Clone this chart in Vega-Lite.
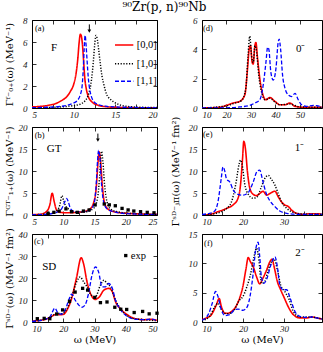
{
 "$schema": "https://vega.github.io/schema/vega-lite/v6.json",
 "padding": {"left": 3, "top": 0, "right": 0, "bottom": 0},
 "title": {"text": "⁹⁰Zr(p, n)⁹⁰Nb", "font": "DejaVu Serif", "fontSize": 12, "fontWeight": "normal", "anchor": "middle", "offset": 2, "color": "black"},
 "columns": 2,
 "spacing": {"row": 19, "column": 45},
 "bounds": "flush",
 "datasets": {
  "a": [
   {"x":5,"y":0.1,"s":"r"},{"x":6,"y":0.15,"s":"r"},{"x":7,"y":0.25,"s":"r"},{"x":8,"y":0.45,"s":"r"},{"x":8.6,"y":0.7,"s":"r"},{"x":9.2,"y":1.05,"s":"r"},{"x":9.6,"y":1.5,"s":"r"},{"x":10,"y":2.15,"s":"r"},{"x":10.3,"y":3.2,"s":"r"},{"x":10.5,"y":4.5,"s":"r"},{"x":10.65,"y":5.9,"s":"r"},{"x":10.8,"y":6.7,"s":"r"},{"x":10.9,"y":6.6,"s":"r"},{"x":11.05,"y":5.8,"s":"r"},{"x":11.2,"y":4.2,"s":"r"},{"x":11.35,"y":2.6,"s":"r"},{"x":11.5,"y":1.8,"s":"r"},{"x":11.75,"y":1.05,"s":"r"},{"x":12.2,"y":0.55,"s":"r"},{"x":12.75,"y":0.3,"s":"r"},{"x":13.5,"y":0.15,"s":"r"},{"x":14.75,"y":0.07,"s":"r"},{"x":17,"y":0.03,"s":"r"},{"x":20,"y":0.02,"s":"r"},
   {"x":5,"y":0.02,"s":"k"},{"x":7,"y":0.05,"s":"k"},{"x":8.5,"y":0.1,"s":"k"},{"x":9.5,"y":0.17,"s":"k"},{"x":10.3,"y":0.25,"s":"k"},{"x":10.8,"y":0.35,"s":"k"},{"x":11.3,"y":0.6,"s":"k"},{"x":11.6,"y":0.9,"s":"k"},{"x":11.85,"y":1.4,"s":"k"},{"x":12.05,"y":2.1,"s":"k"},{"x":12.25,"y":3.3,"s":"k"},{"x":12.4,"y":4.6,"s":"k"},{"x":12.55,"y":6.0,"s":"k"},{"x":12.68,"y":6.6,"s":"k"},{"x":12.85,"y":6.2,"s":"k"},{"x":13,"y":5.3,"s":"k"},{"x":13.2,"y":4.0,"s":"k"},{"x":13.4,"y":2.9,"s":"k"},{"x":13.6,"y":2.2,"s":"k"},{"x":13.95,"y":1.25,"s":"k"},{"x":14.4,"y":0.8,"s":"k"},{"x":14.8,"y":0.55,"s":"k"},{"x":15.5,"y":0.3,"s":"k"},{"x":16.4,"y":0.15,"s":"k"},{"x":18,"y":0.07,"s":"k"},{"x":20,"y":0.04,"s":"k"},
   {"x":5,"y":0.03,"s":"b"},{"x":7,"y":0.07,"s":"b"},{"x":8.5,"y":0.15,"s":"b"},{"x":9.5,"y":0.3,"s":"b"},{"x":10,"y":0.45,"s":"b"},{"x":10.4,"y":0.65,"s":"b"},{"x":10.75,"y":1.1,"s":"b"},{"x":11,"y":1.9,"s":"b"},{"x":11.15,"y":3.5,"s":"b"},{"x":11.25,"y":5.2,"s":"b"},{"x":11.38,"y":6.6,"s":"b"},{"x":11.5,"y":5.6,"s":"b"},{"x":11.62,"y":4.2,"s":"b"},{"x":11.75,"y":2.8,"s":"b"},{"x":11.9,"y":1.8,"s":"b"},{"x":12.1,"y":1.1,"s":"b"},{"x":12.4,"y":0.6,"s":"b"},{"x":13,"y":0.3,"s":"b"},{"x":14,"y":0.15,"s":"b"},{"x":15.5,"y":0.08,"s":"b"},{"x":17,"y":0.05,"s":"b"},{"x":20,"y":0.02,"s":"b"}
  ],
  "b": [
   {"x":5,"y":0.1,"s":"r"},{"x":6.24,"y":0.15,"s":"r"},{"x":7.31,"y":0.76,"s":"r"},{"x":7.85,"y":2.3,"s":"r"},{"x":8.23,"y":4.96,"s":"r"},{"x":8.55,"y":3.05,"s":"r"},{"x":8.92,"y":1.15,"s":"r"},{"x":9.46,"y":0.6,"s":"r"},{"x":10.54,"y":0.5,"s":"r"},{"x":12.15,"y":0.6,"s":"r"},{"x":13.23,"y":0.76,"s":"r"},{"x":14.3,"y":1.4,"s":"r"},{"x":14.84,"y":2.7,"s":"r"},{"x":15.27,"y":6.1,"s":"r"},{"x":15.54,"y":11.5,"s":"r"},{"x":15.75,"y":14.35,"s":"r"},{"x":15.97,"y":12.2,"s":"r"},{"x":16.24,"y":6.9,"s":"r"},{"x":16.56,"y":3.05,"s":"r"},{"x":17.1,"y":1.4,"s":"r"},{"x":18.06,"y":0.76,"s":"r"},{"x":20.2,"y":0.38,"s":"r"},{"x":25,"y":0.15,"s":"r"},
   {"x":5,"y":0.05,"s":"k"},{"x":7.85,"y":0.3,"s":"k"},{"x":8.92,"y":0.9,"s":"k"},{"x":9.46,"y":2.3,"s":"k"},{"x":9.78,"y":4.4,"s":"k"},{"x":10.1,"y":3.05,"s":"k"},{"x":10.4,"y":2.0,"s":"k"},{"x":10.8,"y":1.4,"s":"k"},{"x":11.2,"y":0.9,"s":"k"},{"x":12.15,"y":0.6,"s":"k"},{"x":13.5,"y":0.7,"s":"k"},{"x":14.84,"y":1.5,"s":"k"},{"x":15.48,"y":3.8,"s":"k"},{"x":15.8,"y":8.4,"s":"k"},{"x":16.02,"y":13,"s":"k"},{"x":16.13,"y":14.5,"s":"k"},{"x":16.34,"y":12.2,"s":"k"},{"x":16.61,"y":6.9,"s":"k"},{"x":16.99,"y":3.05,"s":"k"},{"x":17.53,"y":1.4,"s":"k"},{"x":18.6,"y":0.76,"s":"k"},{"x":21.3,"y":0.3,"s":"k"},{"x":25,"y":0.12,"s":"k"},
   {"x":5,"y":0.05,"s":"b"},{"x":7.31,"y":0.15,"s":"b"},{"x":8.92,"y":0.6,"s":"b"},{"x":9.73,"y":1.4,"s":"b"},{"x":10.27,"y":3.05,"s":"b"},{"x":10.54,"y":3.8,"s":"b"},{"x":10.8,"y":3.05,"s":"b"},{"x":11.18,"y":1.4,"s":"b"},{"x":11.88,"y":0.76,"s":"b"},{"x":13.23,"y":0.76,"s":"b"},{"x":14.3,"y":1.15,"s":"b"},{"x":14.95,"y":2.7,"s":"b"},{"x":15.27,"y":6.9,"s":"b"},{"x":15.48,"y":12.2,"s":"b"},{"x":15.65,"y":14.7,"s":"b"},{"x":15.86,"y":13,"s":"b"},{"x":16.13,"y":6.9,"s":"b"},{"x":16.45,"y":3.05,"s":"b"},{"x":16.99,"y":1.4,"s":"b"},{"x":18.06,"y":0.76,"s":"b"},{"x":20.2,"y":0.3,"s":"b"},{"x":25,"y":0.12,"s":"b"}
  ],
  "bexp": [
   {"x":7.58,"y":0.38},{"x":8.5,"y":0.6},{"x":9.35,"y":0.9},{"x":10.43,"y":1.4},{"x":11.34,"y":0.75},{"x":12.26,"y":0.6},{"x":13.23,"y":0.9},{"x":14.14,"y":1.15},{"x":15.1,"y":2.3},{"x":16.56,"y":2.5},{"x":17.37,"y":2.3},{"x":18.33,"y":2.1},{"x":19.41,"y":1.5},{"x":20.38,"y":1.15},{"x":21.29,"y":0.9},{"x":22.37,"y":0.75},{"x":23.44,"y":0.6},{"x":24.52,"y":0.5}
  ],
  "c": [
   {"x":10,"y":0.45,"s":"r"},{"x":12.5,"y":0.75,"s":"r"},{"x":14.6,"y":1.35,"s":"r"},{"x":16.25,"y":2.5,"s":"r"},{"x":17.9,"y":3.6,"s":"r"},{"x":18.95,"y":3.3,"s":"r"},{"x":20,"y":3.45,"s":"r"},{"x":21.1,"y":5.2,"s":"r"},{"x":22.7,"y":10.8,"s":"r"},{"x":24.3,"y":20.5,"s":"r"},{"x":25.74,"y":29.2,"s":"r"},{"x":26.5,"y":26.5,"s":"r"},{"x":27.6,"y":18.3,"s":"r"},{"x":28.9,"y":12.3,"s":"r"},{"x":30.3,"y":10.3,"s":"r"},{"x":31.6,"y":11.5,"s":"r"},{"x":33,"y":14.5,"s":"r"},{"x":34.6,"y":15.3,"s":"r"},{"x":35.7,"y":13.8,"s":"r"},{"x":36.7,"y":9.3,"s":"r"},{"x":38.4,"y":5.8,"s":"r"},{"x":40.5,"y":3.3,"s":"r"},{"x":42.7,"y":1.65,"s":"r"},{"x":45.9,"y":1.05,"s":"r"},{"x":48.1,"y":1.2,"s":"r"},{"x":50,"y":0.75,"s":"r"},
   {"x":10,"y":0.3,"s":"k"},{"x":13.6,"y":1.0,"s":"k"},{"x":16.25,"y":2.5,"s":"k"},{"x":17.9,"y":4.0,"s":"k"},{"x":19.5,"y":3.7,"s":"k"},{"x":21.1,"y":5.8,"s":"k"},{"x":22.7,"y":11.5,"s":"k"},{"x":24.3,"y":18.3,"s":"k"},{"x":25.4,"y":20.5,"s":"k"},{"x":26.5,"y":18.3,"s":"k"},{"x":27.6,"y":16,"s":"k"},{"x":28.9,"y":12.3,"s":"k"},{"x":30.3,"y":11.5,"s":"k"},{"x":31.9,"y":16.8,"s":"k"},{"x":33,"y":19,"s":"k"},{"x":34,"y":17.5,"s":"k"},{"x":35.1,"y":16,"s":"k"},{"x":36.7,"y":10,"s":"k"},{"x":38.4,"y":5.8,"s":"k"},{"x":40.5,"y":2.8,"s":"k"},{"x":42.7,"y":1.5,"s":"k"},{"x":45.9,"y":1.05,"s":"k"},{"x":50,"y":0.6,"s":"k"},
   {"x":10,"y":0.3,"s":"b"},{"x":13.6,"y":1.05,"s":"b"},{"x":15.7,"y":2.25,"s":"b"},{"x":17.3,"y":6.3,"s":"b"},{"x":18.4,"y":4.0,"s":"b"},{"x":19.5,"y":3.6,"s":"b"},{"x":20.6,"y":5.5,"s":"b"},{"x":21.6,"y":9.3,"s":"b"},{"x":22.7,"y":12.7,"s":"b"},{"x":23.8,"y":10,"s":"b"},{"x":24.9,"y":7.8,"s":"b"},{"x":26,"y":6.7,"s":"b"},{"x":27,"y":7.8,"s":"b"},{"x":28.1,"y":13,"s":"b"},{"x":29.2,"y":21.3,"s":"b"},{"x":30.3,"y":25,"s":"b"},{"x":31.3,"y":22.8,"s":"b"},{"x":32.4,"y":16,"s":"b"},{"x":33.5,"y":16,"s":"b"},{"x":34.6,"y":17.5,"s":"b"},{"x":35.7,"y":15.3,"s":"b"},{"x":36.7,"y":10,"s":"b"},{"x":38.4,"y":5.5,"s":"b"},{"x":40.5,"y":2.5,"s":"b"},{"x":42.7,"y":1.35,"s":"b"},{"x":45.9,"y":1.05,"s":"b"},{"x":48.1,"y":1.35,"s":"b"},{"x":50,"y":0.6,"s":"b"}
  ],
  "cexp": [
   {"x":11.7,"y":1.5},{"x":13.9,"y":1.65},{"x":15.7,"y":1.5},{"x":17.9,"y":3.6},{"x":19.8,"y":5.5},{"x":22,"y":9.4},{"x":23.8,"y":13.6},{"x":26.2,"y":15.3},{"x":27.8,"y":14.5},{"x":30.1,"y":11.2},{"x":31.9,"y":8.8},{"x":34,"y":9.1},{"x":36.5,"y":6.7},{"x":38.4,"y":5.8},{"x":40.3,"y":5.7},{"x":42.7,"y":4.3},{"x":45.4,"y":4.8},{"x":47.5,"y":3.7},{"x":50,"y":4.0}
  ],
  "d": [
   {"x":10,"y":0,"s":"r"},{"x":17.2,"y":0.05,"s":"r"},{"x":20,"y":0.18,"s":"r"},{"x":22.7,"y":0.34,"s":"r"},{"x":25.4,"y":0.45,"s":"r"},{"x":27.5,"y":0.9,"s":"r"},{"x":28.6,"y":2.7,"s":"r"},{"x":29.25,"y":4.0,"s":"r"},{"x":29.8,"y":4.25,"s":"r"},{"x":30.5,"y":3.1,"s":"r"},{"x":30.9,"y":3.0,"s":"r"},{"x":31.6,"y":4.25,"s":"r"},{"x":32,"y":4.47,"s":"r"},{"x":32.7,"y":3.35,"s":"r"},{"x":33.6,"y":2.0,"s":"r"},{"x":34.7,"y":1.0,"s":"r"},{"x":36.1,"y":0.56,"s":"r"},{"x":37.7,"y":0.72,"s":"r"},{"x":39.8,"y":0.45,"s":"r"},{"x":41.8,"y":0.22,"s":"r"},{"x":43.9,"y":0.22,"s":"r"},{"x":45.9,"y":0.34,"s":"r"},{"x":48,"y":0.11,"s":"r"},{"x":51.4,"y":0.05,"s":"r"},{"x":59,"y":0.05,"s":"r"},
   {"x":10,"y":0,"s":"k"},{"x":20,"y":0.15,"s":"k"},{"x":23.4,"y":0.34,"s":"k"},{"x":26.1,"y":0.5,"s":"k"},{"x":27.9,"y":1.35,"s":"k"},{"x":28.8,"y":3.6,"s":"k"},{"x":29.5,"y":4.9,"s":"k"},{"x":30.2,"y":3.6,"s":"k"},{"x":30.9,"y":3.1,"s":"k"},{"x":31.6,"y":4.25,"s":"k"},{"x":32.3,"y":3.8,"s":"k"},{"x":33.2,"y":2.2,"s":"k"},{"x":34.3,"y":1.1,"s":"k"},{"x":35.7,"y":0.56,"s":"k"},{"x":37.7,"y":0.67,"s":"k"},{"x":39.8,"y":0.4,"s":"k"},{"x":41.8,"y":0.22,"s":"k"},{"x":45.9,"y":0.27,"s":"k"},{"x":50,"y":0.07,"s":"k"},{"x":59,"y":0.05,"s":"k"},
   {"x":10,"y":0,"s":"b"},{"x":20,"y":0.01,"s":"b"},{"x":25.4,"y":0.07,"s":"b"},{"x":29.5,"y":0.18,"s":"b"},{"x":31.6,"y":0.34,"s":"b"},{"x":33.6,"y":0.56,"s":"b"},{"x":35,"y":1.57,"s":"b"},{"x":36.1,"y":3.1,"s":"b"},{"x":36.8,"y":4.14,"s":"b"},{"x":37.3,"y":4.0,"s":"b"},{"x":38.1,"y":2.46,"s":"b"},{"x":39.1,"y":1.9,"s":"b"},{"x":40.2,"y":2.7,"s":"b"},{"x":41.1,"y":4.47,"s":"b"},{"x":41.5,"y":4.7,"s":"b"},{"x":42.1,"y":4.0,"s":"b"},{"x":42.9,"y":2.24,"s":"b"},{"x":43.9,"y":1.34,"s":"b"},{"x":45.2,"y":0.9,"s":"b"},{"x":46.6,"y":0.78,"s":"b"},{"x":48,"y":1.0,"s":"b"},{"x":49.3,"y":0.56,"s":"b"},{"x":50.7,"y":0.22,"s":"b"},{"x":52.7,"y":0.11,"s":"b"},{"x":55.5,"y":0.18,"s":"b"},{"x":56.8,"y":0.16,"s":"b"},{"x":59,"y":0.05,"s":"b"}
  ],
  "e": [
   {"x":10,"y":0,"s":"r"},{"x":11.9,"y":0.15,"s":"r"},{"x":13.9,"y":0.75,"s":"r"},{"x":16,"y":1.5,"s":"r"},{"x":17.6,"y":2.3,"s":"r"},{"x":18.8,"y":3.8,"s":"r"},{"x":19.4,"y":6.8,"s":"r"},{"x":19.9,"y":12.8,"s":"r"},{"x":20.2,"y":16.75,"s":"r"},{"x":20.6,"y":15.1,"s":"r"},{"x":21.1,"y":9.8,"s":"r"},{"x":21.7,"y":6.0,"s":"r"},{"x":22.5,"y":4.7,"s":"r"},{"x":23.3,"y":4.4,"s":"r"},{"x":24.1,"y":4.9,"s":"r"},{"x":24.9,"y":5.4,"s":"r"},{"x":25.8,"y":4.5,"s":"r"},{"x":26.6,"y":4.9,"s":"r"},{"x":27.8,"y":5.4,"s":"r"},{"x":28.6,"y":4.15,"s":"r"},{"x":29.4,"y":3.0,"s":"r"},{"x":30.2,"y":2.3,"s":"r"},{"x":31.1,"y":1.9,"s":"r"},{"x":31.9,"y":1.1,"s":"r"},{"x":33.1,"y":0.38,"s":"r"},{"x":34.7,"y":0.15,"s":"r"},{"x":36.4,"y":0.3,"s":"r"},{"x":38,"y":0.3,"s":"r"},{"x":39.3,"y":0.15,"s":"r"},
   {"x":10,"y":0,"s":"k"},{"x":13.5,"y":0.38,"s":"k"},{"x":16,"y":1.5,"s":"k"},{"x":17.2,"y":3.0,"s":"k"},{"x":18.2,"y":6.8,"s":"k"},{"x":19.1,"y":11.7,"s":"k"},{"x":19.4,"y":12.5,"s":"k"},{"x":19.9,"y":10.9,"s":"k"},{"x":20.4,"y":7.2,"s":"k"},{"x":21.3,"y":4.7,"s":"k"},{"x":22.5,"y":3.8,"s":"k"},{"x":23.5,"y":4.15,"s":"k"},{"x":24.5,"y":6.4,"s":"k"},{"x":25.6,"y":8.7,"s":"k"},{"x":26.2,"y":9.0,"s":"k"},{"x":26.8,"y":8.3,"s":"k"},{"x":27.8,"y":6.8,"s":"k"},{"x":28.6,"y":4.9,"s":"k"},{"x":29.4,"y":3.0,"s":"k"},{"x":30.7,"y":1.5,"s":"k"},{"x":32.3,"y":0.6,"s":"k"},{"x":34.7,"y":0.23,"s":"k"},{"x":39.3,"y":0.15,"s":"k"},
   {"x":10,"y":0.15,"s":"b"},{"x":11.9,"y":0.38,"s":"b"},{"x":13.1,"y":0.9,"s":"b"},{"x":13.9,"y":3.0,"s":"b"},{"x":14.7,"y":8.3,"s":"b"},{"x":15.1,"y":10.9,"s":"b"},{"x":15.5,"y":10.2,"s":"b"},{"x":16,"y":8.15,"s":"b"},{"x":16.8,"y":7.5,"s":"b"},{"x":17.6,"y":5.7,"s":"b"},{"x":18.8,"y":4.7,"s":"b"},{"x":20,"y":4.5,"s":"b"},{"x":21.3,"y":5.1,"s":"b"},{"x":22.5,"y":7.5,"s":"b"},{"x":23.5,"y":10,"s":"b"},{"x":24.1,"y":10.2,"s":"b"},{"x":24.8,"y":7.9,"s":"b"},{"x":25.6,"y":5.1,"s":"b"},{"x":26.6,"y":3.2,"s":"b"},{"x":27.8,"y":1.9,"s":"b"},{"x":29,"y":0.9,"s":"b"},{"x":30.7,"y":0.38,"s":"b"},{"x":33.9,"y":0.15,"s":"b"},{"x":39.3,"y":0.15,"s":"b"}
  ],
  "f": [
   {"x":10,"y":0.4,"s":"r"},{"x":11.1,"y":0.7,"s":"r"},{"x":12.3,"y":1.25,"s":"r"},{"x":13.5,"y":2.9,"s":"r"},{"x":14.2,"y":4.0,"s":"r"},{"x":14.7,"y":2.7,"s":"r"},{"x":15.6,"y":1.5,"s":"r"},{"x":16.4,"y":1.5,"s":"r"},{"x":17.2,"y":1.8,"s":"r"},{"x":18.2,"y":2.55,"s":"r"},{"x":19.2,"y":4.1,"s":"r"},{"x":20,"y":6.1,"s":"r"},{"x":20.7,"y":8.9,"s":"r"},{"x":21.3,"y":11.0,"s":"r"},{"x":21.8,"y":10.3,"s":"r"},{"x":22.5,"y":9.45,"s":"r"},{"x":23.3,"y":7.75,"s":"r"},{"x":24.1,"y":6.5,"s":"r"},{"x":24.9,"y":7.5,"s":"r"},{"x":25.8,"y":8.9,"s":"r"},{"x":26.6,"y":10.3,"s":"r"},{"x":27.1,"y":10.7,"s":"r"},{"x":27.6,"y":9.45,"s":"r"},{"x":28.4,"y":6.9,"s":"r"},{"x":29.2,"y":5.5,"s":"r"},{"x":30,"y":4.25,"s":"r"},{"x":31.1,"y":2.55,"s":"r"},{"x":32.3,"y":1.25,"s":"r"},{"x":33.9,"y":0.7,"s":"r"},{"x":35.6,"y":0.7,"s":"r"},{"x":36.8,"y":0.85,"s":"r"},{"x":38,"y":0.7,"s":"r"},{"x":39.3,"y":0.5,"s":"r"},
   {"x":10,"y":0.2,"s":"k"},{"x":11.9,"y":1.0,"s":"k"},{"x":13.1,"y":2.55,"s":"k"},{"x":13.9,"y":3.2,"s":"k"},{"x":14.7,"y":2.2,"s":"k"},{"x":16,"y":1.4,"s":"k"},{"x":17.6,"y":1.8,"s":"k"},{"x":19.1,"y":3.7,"s":"k"},{"x":20,"y":4.35,"s":"k"},{"x":21,"y":6.1,"s":"k"},{"x":21.8,"y":8.0,"s":"k"},{"x":22.7,"y":11.1,"s":"k"},{"x":23.3,"y":12.6,"s":"k"},{"x":23.9,"y":10.6,"s":"k"},{"x":24.5,"y":6.6,"s":"k"},{"x":25.3,"y":6.9,"s":"k"},{"x":26.2,"y":8.9,"s":"k"},{"x":27,"y":10.3,"s":"k"},{"x":27.6,"y":10.7,"s":"k"},{"x":28.4,"y":8.9,"s":"k"},{"x":29.2,"y":6.3,"s":"k"},{"x":30.2,"y":5.2,"s":"k"},{"x":31.3,"y":3.8,"s":"k"},{"x":32.3,"y":1.8,"s":"k"},{"x":33.9,"y":0.85,"s":"k"},{"x":36.4,"y":0.85,"s":"k"},{"x":39.3,"y":0.5,"s":"k"},
   {"x":10,"y":0.3,"s":"b"},{"x":11.5,"y":1.25,"s":"b"},{"x":12.5,"y":3.2,"s":"b"},{"x":13.3,"y":5.2,"s":"b"},{"x":13.9,"y":4.35,"s":"b"},{"x":14.7,"y":2.1,"s":"b"},{"x":15.7,"y":1.1,"s":"b"},{"x":16.8,"y":1.25,"s":"b"},{"x":17.8,"y":2.0,"s":"b"},{"x":18.8,"y":2.2,"s":"b"},{"x":20,"y":2.0,"s":"b"},{"x":21,"y":2.55,"s":"b"},{"x":21.8,"y":4.65,"s":"b"},{"x":22.5,"y":8.3,"s":"b"},{"x":23.1,"y":12.3,"s":"b"},{"x":23.7,"y":13.6,"s":"b"},{"x":24.1,"y":11.1,"s":"b"},{"x":24.5,"y":7.75,"s":"b"},{"x":25.1,"y":6.6,"s":"b"},{"x":25.9,"y":7.5,"s":"b"},{"x":26.7,"y":9.45,"s":"b"},{"x":27.8,"y":11.1,"s":"b"},{"x":28.4,"y":9.45,"s":"b"},{"x":29,"y":6.3,"s":"b"},{"x":29.8,"y":5.5,"s":"b"},{"x":30.7,"y":5.5,"s":"b"},{"x":31.5,"y":4.1,"s":"b"},{"x":32.7,"y":1.8,"s":"b"},{"x":33.9,"y":0.95,"s":"b"},{"x":35.6,"y":0.8,"s":"b"},{"x":36.8,"y":0.85,"s":"b"},{"x":38,"y":0.7,"s":"b"},{"x":39.3,"y":0.5,"s":"b"}
  ]
 },
 "concat": [
  {"width":125,"height":88,
   "layer":[
    {"data":{"name":"a"},"mark":{"type":"line","interpolate":"monotone","clip":true},
     "encoding":{
      "x":{"field":"x","type":"quantitative","scale":{"domain":[5,20],"nice":false,"zero":false},"axis":{"values":[5,7.5,10,12.5,15,17.5,20],"labelExpr":"datum.value % 5 == 0 ? datum.label : ''","title":null}},
      "y":{"field":"y","type":"quantitative","scale":{"domain":[0,8],"nice":false},"axis":{"values":[0,2,4,6,8],"title":"Γᶠ⁻₀₊(ω) (MeV⁻¹)","titleX":-23,"titleBaseline":"middle"}},
      "color":{"field":"s","type":"nominal","scale":{"domain":["r","k","b"],"range":["#ff0000","#000000","#0000ff"]},"legend":null},
      "strokeDash":{"field":"s","type":"nominal","scale":{"domain":["r","k","b"],"range":[[1,0],[1.2,1.6],[4,2]]},"legend":null},
      "strokeWidth":{"field":"s","type":"ordinal","scale":{"domain":["r","k","b"],"range":[1.6,1.3,1.4]},"legend":null}}},
    {"data":{"values":[{"x":14.96,"x2":17.16,"y":5.73,"s":"r"},{"x":14.96,"x2":17.16,"y":4.02,"s":"k"},{"x":14.96,"x2":17.16,"y":2.43,"s":"b"}]},
     "mark":{"type":"rule"},
     "encoding":{"x":{"field":"x","type":"quantitative","axis":null},"x2":{"field":"x2"},"y":{"field":"y","type":"quantitative","axis":null},
      "color":{"field":"s","type":"nominal","legend":null},"strokeDash":{"field":"s","type":"nominal","legend":null},"strokeWidth":{"field":"s","type":"ordinal","legend":null}}},
    {"data":{"values":[{"x":17.57,"y":5.73,"t":"[0,0]"},{"x":17.57,"y":4.02,"t":"[1,0]"},{"x":17.57,"y":2.43,"t":"[1,1]"}]},
     "mark":{"type":"text","align":"left","baseline":"middle","font":"Liberation Serif","fontSize":10.5},
     "encoding":{"x":{"field":"x","type":"quantitative","axis":null},"y":{"field":"y","type":"quantitative","axis":null},"text":{"field":"t"}}},
    {"data":{"values":[{"x":11.88,"y":7.6,"y2":7.05}]},"mark":{"type":"rule","strokeWidth":1,"color":"black"},
     "encoding":{"x":{"field":"x","type":"quantitative","axis":null},"y":{"field":"y","type":"quantitative","axis":null},"y2":{"field":"y2"}}},
    {"data":{"values":[{"x":11.88,"y":6.98}]},"mark":{"type":"point","shape":"triangle-down","filled":true,"color":"black","size":14,"opacity":1},
     "encoding":{"x":{"field":"x","type":"quantitative","axis":null},"y":{"field":"y","type":"quantitative","axis":null}}},
    {"data":{"values":[{"x":5.35,"y":7.27,"t":"(a)"}]},"mark":{"type":"text","align":"left","baseline":"middle","font":"Liberation Serif","fontSize":8.5},
     "encoding":{"x":{"field":"x","type":"quantitative","axis":null},"y":{"field":"y","type":"quantitative","axis":null},"text":{"field":"t"}}},
    {"data":{"values":[{"x":7.65,"y":5.5,"t":"F"}]},"mark":{"type":"text","align":"center","baseline":"middle","font":"Liberation Serif","fontSize":11},
     "encoding":{"x":{"field":"x","type":"quantitative","axis":null},"y":{"field":"y","type":"quantitative","axis":null},"text":{"field":"t"}}},
    {"data":{"name":"a"},"mark":{"type":"point","opacity":0},
     "encoding":{"x":{"field":"x","type":"quantitative","scale":{"domain":[5,20],"nice":false,"zero":false},"axis":{"orient":"top","values":[5,7.5,10,12.5,15,17.5,20],"labels":false,"title":null}},
      "y":{"field":"y","type":"quantitative","scale":{"domain":[0,8],"nice":false},"axis":{"orient":"right","values":[0,2,4,6,8],"labels":false,"title":null}}}}
   ],
   "resolve":{"axis":{"x":"independent","y":"independent"}}
  },
  {"width":120,"height":88,
   "layer":[
    {"data":{"name":"d"},"mark":{"type":"line","interpolate":"monotone","clip":true},
     "encoding":{
      "x":{"field":"x","type":"quantitative","scale":{"domain":[10,59],"nice":false,"zero":false},"axis":{"values":[10,20,30,40,50],"title":null}},
      "y":{"field":"y","type":"quantitative","scale":{"domain":[0,6],"nice":false},"axis":{"values":[0,2,4,6],"title":null}},
      "color":{"field":"s","type":"nominal","legend":null},
      "strokeDash":{"field":"s","type":"nominal","legend":null},
      "strokeWidth":{"field":"s","type":"ordinal","legend":null}}},
    {"data":{"values":[{"x":10.4,"y":5.48,"t":"(d)"}]},"mark":{"type":"text","align":"left","baseline":"middle","font":"Liberation Serif","fontSize":8.5},
     "encoding":{"x":{"field":"x","type":"quantitative","axis":null},"y":{"field":"y","type":"quantitative","axis":null},"text":{"field":"t"}}},
    {"data":{"values":[{"x":50.3,"y":4.03,"t":"0⁻"}]},"mark":{"type":"text","align":"center","baseline":"middle","font":"Liberation Serif","fontSize":11},
     "encoding":{"x":{"field":"x","type":"quantitative","axis":null},"y":{"field":"y","type":"quantitative","axis":null},"text":{"field":"t"}}},
    {"data":{"name":"d"},"mark":{"type":"point","opacity":0},
     "encoding":{"x":{"field":"x","type":"quantitative","scale":{"domain":[10,59],"nice":false,"zero":false},"axis":{"orient":"top","values":[10,20,30,40,50],"labels":false,"title":null}},
      "y":{"field":"y","type":"quantitative","scale":{"domain":[0,6],"nice":false},"axis":{"orient":"right","values":[0,2,4,6],"labels":false,"title":null}}}}
   ],
   "resolve":{"axis":{"x":"independent","y":"independent"}}
  },
  {"width":125,"height":88,
   "layer":[
    {"data":{"name":"b"},"mark":{"type":"line","interpolate":"monotone","clip":true},
     "encoding":{
      "x":{"field":"x","type":"quantitative","scale":{"domain":[5,25],"nice":false,"zero":false},"axis":{"values":[5,7.5,10,12.5,15,17.5,20,22.5,25],"labelExpr":"datum.value % 5 == 0 ? datum.label : ''","title":null}},
      "y":{"field":"y","type":"quantitative","scale":{"domain":[0,20],"nice":false},"axis":{"values":[0,5,10,15,20],"title":"Γᴳᵀ⁻₁₊(ω) (MeV⁻¹)","titleX":-23,"titleBaseline":"middle"}},
      "color":{"field":"s","type":"nominal","legend":null},
      "strokeDash":{"field":"s","type":"nominal","legend":null},
      "strokeWidth":{"field":"s","type":"ordinal","legend":null}}},
    {"data":{"name":"bexp"},"mark":{"type":"point","shape":"square","filled":true,"color":"black","size":11,"opacity":1},
     "encoding":{"x":{"field":"x","type":"quantitative","axis":null},"y":{"field":"y","type":"quantitative","axis":null}}},
    {"data":{"values":[{"x":15.54,"y":18.5,"y2":17.3}]},"mark":{"type":"rule","strokeWidth":1,"color":"black"},
     "encoding":{"x":{"field":"x","type":"quantitative","axis":null},"y":{"field":"y","type":"quantitative","axis":null},"y2":{"field":"y2"}}},
    {"data":{"values":[{"x":15.54,"y":17.0}]},"mark":{"type":"point","shape":"triangle-down","filled":true,"color":"black","size":14,"opacity":1},
     "encoding":{"x":{"field":"x","type":"quantitative","axis":null},"y":{"field":"y","type":"quantitative","axis":null}}},
    {"data":{"values":[{"x":5.43,"y":18.1,"t":"(b)"}]},"mark":{"type":"text","align":"left","baseline":"middle","font":"Liberation Serif","fontSize":8.5},
     "encoding":{"x":{"field":"x","type":"quantitative","axis":null},"y":{"field":"y","type":"quantitative","axis":null},"text":{"field":"t"}}},
    {"data":{"values":[{"x":8.55,"y":14.9,"t":"GT"}]},"mark":{"type":"text","align":"center","baseline":"middle","font":"Liberation Serif","fontSize":11},
     "encoding":{"x":{"field":"x","type":"quantitative","axis":null},"y":{"field":"y","type":"quantitative","axis":null},"text":{"field":"t"}}},
    {"data":{"name":"b"},"mark":{"type":"point","opacity":0},
     "encoding":{"x":{"field":"x","type":"quantitative","scale":{"domain":[5,25],"nice":false,"zero":false},"axis":{"orient":"top","values":[5,7.5,10,12.5,15,17.5,20,22.5,25],"labels":false,"title":null}},
      "y":{"field":"y","type":"quantitative","scale":{"domain":[0,20],"nice":false},"axis":{"orient":"right","values":[0,5,10,15,20],"labels":false,"title":null}}}}
   ],
   "resolve":{"axis":{"x":"independent","y":"independent"}}
  },
  {"width":120,"height":88,
   "layer":[
    {"data":{"name":"e"},"mark":{"type":"line","interpolate":"monotone","clip":true},
     "encoding":{
      "x":{"field":"x","type":"quantitative","scale":{"domain":[10,39.3],"nice":false,"zero":false},"axis":{"values":[10,15,20,25,30,35],"labelExpr":"datum.value % 10 == 0 ? datum.label : ''","title":null}},
      "y":{"field":"y","type":"quantitative","scale":{"domain":[0,20],"nice":false},"axis":{"values":[0,5,10,15,20],"title":"Γˢᴰ⁻ⱼπ(ω) (MeV⁻¹ fm²)","titleX":-27,"titleBaseline":"middle"}},
      "color":{"field":"s","type":"nominal","legend":null},
      "strokeDash":{"field":"s","type":"nominal","legend":null},
      "strokeWidth":{"field":"s","type":"ordinal","legend":null}}},
    {"data":{"values":[{"x":10.25,"y":18.3,"t":"(e)"}]},"mark":{"type":"text","align":"left","baseline":"middle","font":"Liberation Serif","fontSize":8.5},
     "encoding":{"x":{"field":"x","type":"quantitative","axis":null},"y":{"field":"y","type":"quantitative","axis":null},"text":{"field":"t"}}},
    {"data":{"values":[{"x":33.8,"y":15.2,"t":"1⁻"}]},"mark":{"type":"text","align":"center","baseline":"middle","font":"Liberation Serif","fontSize":11},
     "encoding":{"x":{"field":"x","type":"quantitative","axis":null},"y":{"field":"y","type":"quantitative","axis":null},"text":{"field":"t"}}},
    {"data":{"name":"e"},"mark":{"type":"point","opacity":0},
     "encoding":{"x":{"field":"x","type":"quantitative","scale":{"domain":[10,39.3],"nice":false,"zero":false},"axis":{"orient":"top","values":[10,15,20,25,30,35],"labels":false,"title":null}},
      "y":{"field":"y","type":"quantitative","scale":{"domain":[0,20],"nice":false},"axis":{"orient":"right","values":[0,5,10,15,20],"labels":false,"title":null}}}}
   ],
   "resolve":{"axis":{"x":"independent","y":"independent"}}
  },
  {"width":125,"height":88,
   "layer":[
    {"data":{"name":"c"},"mark":{"type":"line","interpolate":"monotone","clip":true},
     "encoding":{
      "x":{"field":"x","type":"quantitative","scale":{"domain":[10,50],"nice":false,"zero":false},"axis":{"values":[10,15,20,25,30,35,40,45,50],"labelExpr":"datum.value % 10 == 0 ? datum.label : ''","title":"ω (MeV)","titleY":17,"titleBaseline":"middle"}},
      "y":{"field":"y","type":"quantitative","scale":{"domain":[0,40],"nice":false},"axis":{"values":[0,10,20,30,40],"title":"Γˢᴰ⁻(ω) (MeV⁻¹ fm²)","titleX":-23,"titleBaseline":"middle"}},
      "color":{"field":"s","type":"nominal","legend":null},
      "strokeDash":{"field":"s","type":"nominal","legend":null},
      "strokeWidth":{"field":"s","type":"ordinal","legend":null}}},
    {"data":{"name":"cexp"},"mark":{"type":"point","shape":"square","filled":true,"color":"black","size":11,"opacity":1},
     "encoding":{"x":{"field":"x","type":"quantitative","axis":null},"y":{"field":"y","type":"quantitative","axis":null}}},
    {"data":{"values":[{"x":40.0,"y":30.2}]},"mark":{"type":"point","shape":"square","filled":true,"color":"black","size":11,"opacity":1},
     "encoding":{"x":{"field":"x","type":"quantitative","axis":null},"y":{"field":"y","type":"quantitative","axis":null}}},
    {"data":{"values":[{"x":41.6,"y":30.2,"t":"exp"}]},"mark":{"type":"text","align":"left","baseline":"middle","font":"Liberation Serif","fontSize":10.5},
     "encoding":{"x":{"field":"x","type":"quantitative","axis":null},"y":{"field":"y","type":"quantitative","axis":null},"text":{"field":"t"}}},
    {"data":{"values":[{"x":10.65,"y":36.7,"t":"(c)"}]},"mark":{"type":"text","align":"left","baseline":"middle","font":"Liberation Serif","fontSize":8.5},
     "encoding":{"x":{"field":"x","type":"quantitative","axis":null},"y":{"field":"y","type":"quantitative","axis":null},"text":{"field":"t"}}},
    {"data":{"values":[{"x":15.5,"y":25,"t":"SD"}]},"mark":{"type":"text","align":"center","baseline":"middle","font":"Liberation Serif","fontSize":11},
     "encoding":{"x":{"field":"x","type":"quantitative","axis":null},"y":{"field":"y","type":"quantitative","axis":null},"text":{"field":"t"}}},
    {"data":{"name":"c"},"mark":{"type":"point","opacity":0},
     "encoding":{"x":{"field":"x","type":"quantitative","scale":{"domain":[10,50],"nice":false,"zero":false},"axis":{"orient":"top","values":[10,15,20,25,30,35,40,45,50],"labels":false,"title":null}},
      "y":{"field":"y","type":"quantitative","scale":{"domain":[0,40],"nice":false},"axis":{"orient":"right","values":[0,10,20,30,40],"labels":false,"title":null}}}}
   ],
   "resolve":{"axis":{"x":"independent","y":"independent"}}
  },
  {"width":120,"height":88,
   "layer":[
    {"data":{"name":"f"},"mark":{"type":"line","interpolate":"monotone","clip":true},
     "encoding":{
      "x":{"field":"x","type":"quantitative","scale":{"domain":[10,39.3],"nice":false,"zero":false},"axis":{"values":[10,15,20,25,30,35],"labelExpr":"datum.value % 10 == 0 ? datum.label : ''","title":"ω (MeV)","titleY":17,"titleBaseline":"middle"}},
      "y":{"field":"y","type":"quantitative","scale":{"domain":[0,15],"nice":false},"axis":{"values":[0,5,10,15],"title":null}},
      "color":{"field":"s","type":"nominal","legend":null},
      "strokeDash":{"field":"s","type":"nominal","legend":null},
      "strokeWidth":{"field":"s","type":"ordinal","legend":null}}},
    {"data":{"values":[{"x":10.5,"y":13.5,"t":"(f)"}]},"mark":{"type":"text","align":"left","baseline":"middle","font":"Liberation Serif","fontSize":8.5},
     "encoding":{"x":{"field":"x","type":"quantitative","axis":null},"y":{"field":"y","type":"quantitative","axis":null},"text":{"field":"t"}}},
    {"data":{"values":[{"x":33.9,"y":11.8,"t":"2⁻"}]},"mark":{"type":"text","align":"center","baseline":"middle","font":"Liberation Serif","fontSize":11},
     "encoding":{"x":{"field":"x","type":"quantitative","axis":null},"y":{"field":"y","type":"quantitative","axis":null},"text":{"field":"t"}}},
    {"data":{"name":"f"},"mark":{"type":"point","opacity":0},
     "encoding":{"x":{"field":"x","type":"quantitative","scale":{"domain":[10,39.3],"nice":false,"zero":false},"axis":{"orient":"top","values":[10,15,20,25,30,35],"labels":false,"title":null}},
      "y":{"field":"y","type":"quantitative","scale":{"domain":[0,15],"nice":false},"axis":{"orient":"right","values":[0,5,10,15],"labels":false,"title":null}}}}
   ],
   "resolve":{"axis":{"x":"independent","y":"independent"}}
  }
 ],
 "config": {
  "view": {"stroke": "black", "strokeWidth": 1},
  "axis": {"domain": false, "grid": false, "tickSize": -4, "tickColor": "black", "tickWidth": 0.8, "labelFont": "Liberation Serif", "labelFontStyle": "italic", "labelFontSize": 9, "labelColor": "#222", "titleFont": "DejaVu Serif", "titleFontWeight": "normal", "titleFontSize": 10, "titleColor": "black"},
  "axisX": {"labelPadding": 6},
  "axisY": {"labelPadding": 9},
  "font": "Liberation Serif"
 }
}
